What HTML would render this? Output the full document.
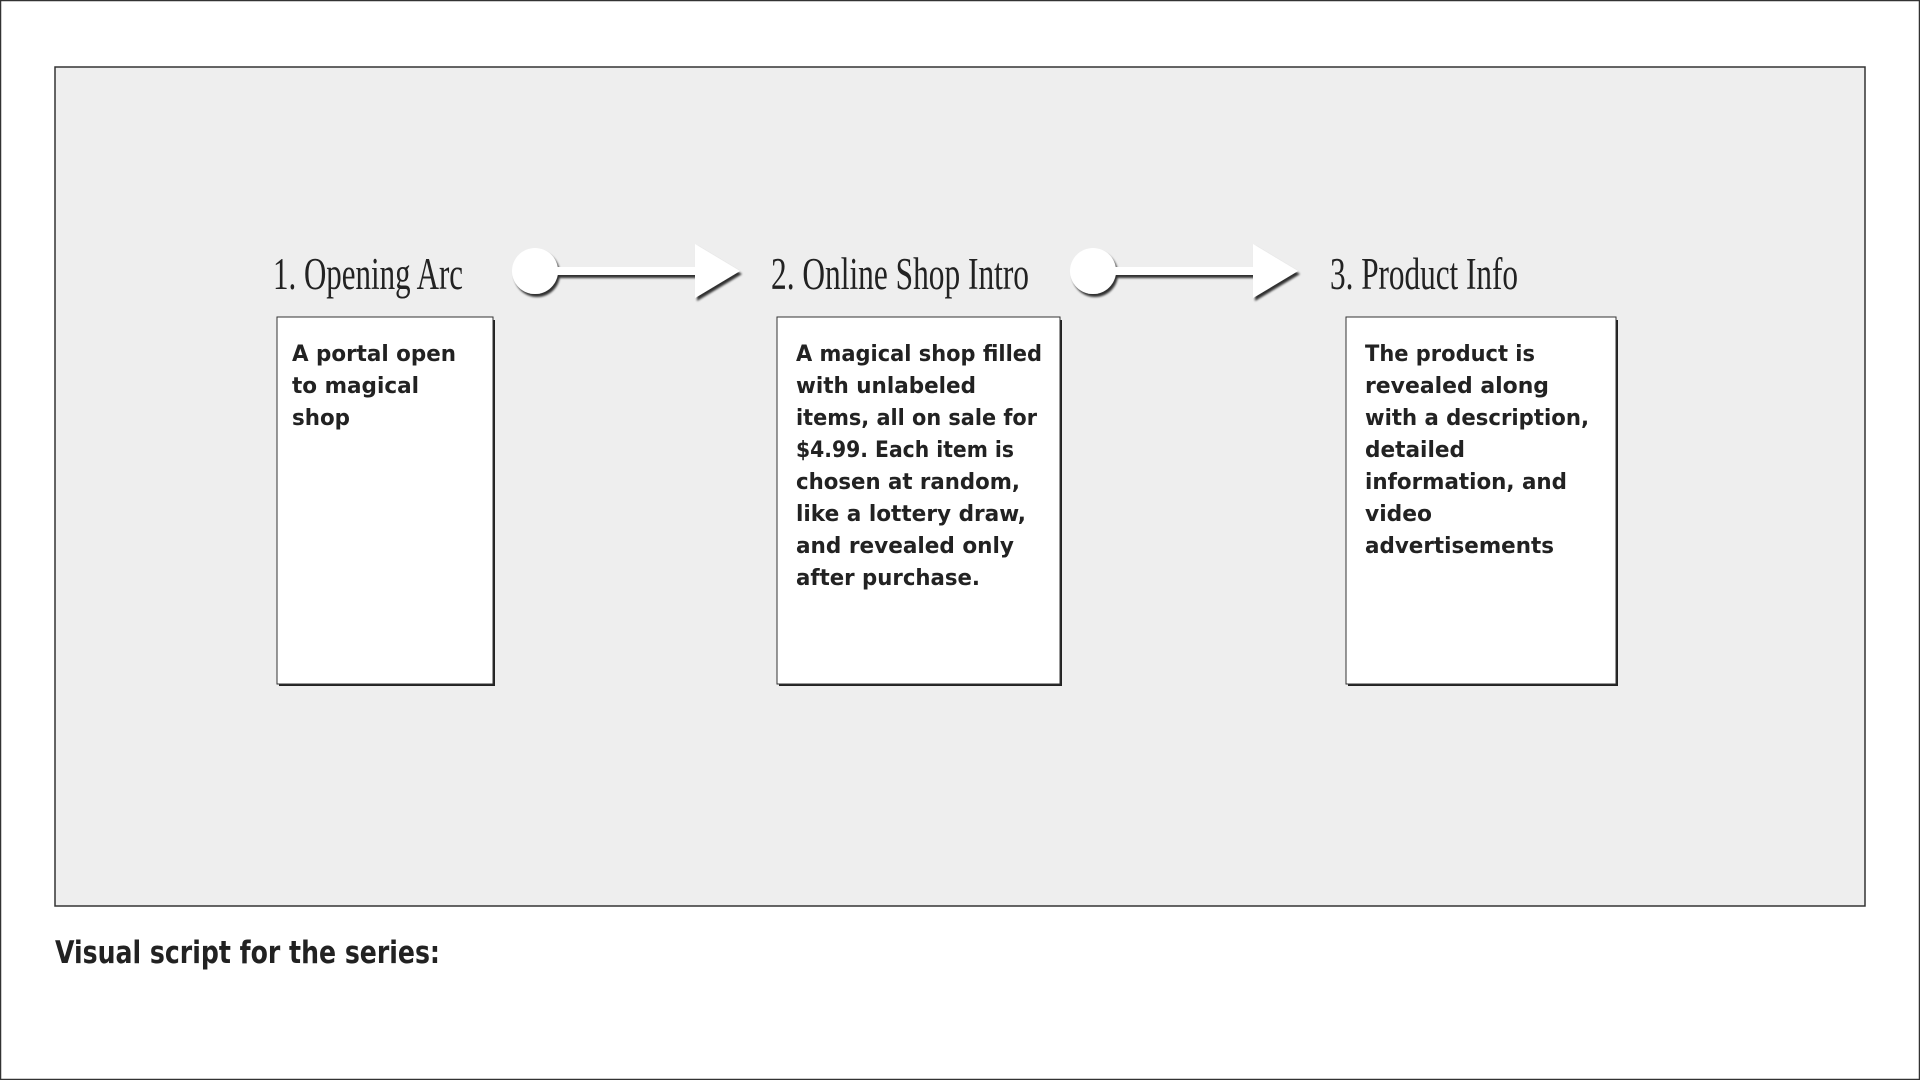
<!DOCTYPE html>
<html><head><meta charset="utf-8"><style>
html,body{margin:0;padding:0;background:#fff;}
svg{display:block;}
.t{font-family:"Liberation Serif",serif;font-size:45px;fill:#222;}
.b{font-family:"DejaVu Sans","Liberation Sans",sans-serif;font-weight:bold;font-size:22px;fill:#222;}
</style></head><body>
<svg width="1920" height="1080" viewBox="0 0 1920 1080" xmlns="http://www.w3.org/2000/svg">
<defs>
<filter id="sh" x="-20%" y="-20%" width="150%" height="160%">
<feGaussianBlur in="SourceAlpha" stdDeviation="1"/>
<feOffset dx="2" dy="3" result="o"/>
<feComponentTransfer><feFuncA type="linear" slope="0.8"/></feComponentTransfer>
<feMerge><feMergeNode/><feMergeNode in="SourceGraphic"/></feMerge>
</filter>
<g id="arr">
<circle cx="0" cy="0" r="23" fill="#fff"/>
<rect x="18" y="-4" width="145" height="8" fill="#fff"/>
<polygon points="160,-27 205,0 160,27" fill="#fff"/>
</g>
</defs>
<rect x="0.5" y="0.5" width="1919" height="1079" fill="#fff" stroke="#333" stroke-width="1.5"/>
<rect x="55" y="67" width="1810" height="839" fill="#eeeeee" stroke="#333" stroke-width="1.5"/>

<text class="t" x="273" y="289" textLength="190" lengthAdjust="spacingAndGlyphs">1.  Opening Arc</text>
<text class="t" x="771" y="289" textLength="258" lengthAdjust="spacingAndGlyphs">2.  Online Shop Intro</text>
<text class="t" x="1330" y="289" textLength="188" lengthAdjust="spacingAndGlyphs">3.  Product Info</text>

<g filter="url(#sh)"><use href="#arr" x="535" y="271"/></g>
<g filter="url(#sh)"><use href="#arr" x="1093" y="271"/></g>

<rect x="279" y="320" width="216" height="366" fill="#222"/>
<rect x="277" y="317" width="216" height="367" fill="#fff" stroke="#333" stroke-width="1"/>
<rect x="779" y="320" width="283" height="366" fill="#222"/>
<rect x="777" y="317" width="283" height="367" fill="#fff" stroke="#333" stroke-width="1"/>
<rect x="1348" y="320" width="270" height="366" fill="#222"/>
<rect x="1346" y="317" width="270" height="367" fill="#fff" stroke="#333" stroke-width="1"/>

<g class="b">
<text x="292" y="361" textLength="164" lengthAdjust="spacingAndGlyphs">A portal open</text>
<text x="292" y="393" textLength="127" lengthAdjust="spacingAndGlyphs">to magical</text>
<text x="292" y="425" textLength="58" lengthAdjust="spacingAndGlyphs">shop</text>

<text x="796" y="361" textLength="246" lengthAdjust="spacingAndGlyphs">A magical shop filled</text>
<text x="796" y="393" textLength="180" lengthAdjust="spacingAndGlyphs">with unlabeled</text>
<text x="796" y="425" textLength="241" lengthAdjust="spacingAndGlyphs">items, all on sale for</text>
<text x="796" y="457" textLength="218" lengthAdjust="spacingAndGlyphs">$4.99. Each item is</text>
<text x="796" y="489" textLength="224" lengthAdjust="spacingAndGlyphs">chosen at random,</text>
<text x="796" y="521" textLength="230" lengthAdjust="spacingAndGlyphs">like a lottery draw,</text>
<text x="796" y="553" textLength="218" lengthAdjust="spacingAndGlyphs">and revealed only</text>
<text x="796" y="585" textLength="184" lengthAdjust="spacingAndGlyphs">after purchase.</text>

<text x="1365" y="361" textLength="170" lengthAdjust="spacingAndGlyphs">The product is</text>
<text x="1365" y="393" textLength="184" lengthAdjust="spacingAndGlyphs">revealed along</text>
<text x="1365" y="425" textLength="224" lengthAdjust="spacingAndGlyphs">with a description,</text>
<text x="1365" y="457" textLength="100" lengthAdjust="spacingAndGlyphs">detailed</text>
<text x="1365" y="489" textLength="202" lengthAdjust="spacingAndGlyphs">information, and</text>
<text x="1365" y="521" textLength="67" lengthAdjust="spacingAndGlyphs">video</text>
<text x="1365" y="553" textLength="189" lengthAdjust="spacingAndGlyphs">advertisements</text>
</g>

<text x="55" y="963" style="font-family:'DejaVu Sans','Liberation Sans',sans-serif;font-weight:bold;font-size:31px;fill:#222" textLength="385" lengthAdjust="spacingAndGlyphs">Visual script for the series:</text>
</svg>
</body></html>
